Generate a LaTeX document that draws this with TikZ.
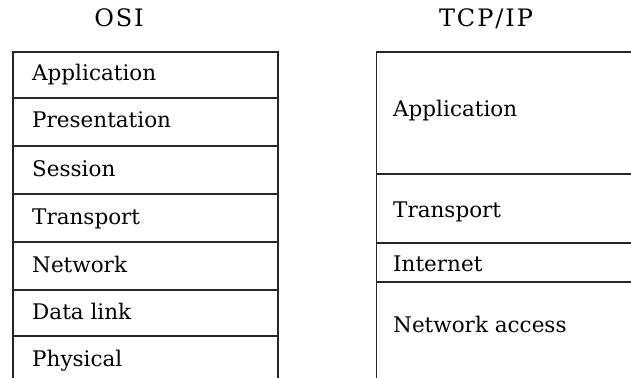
\documentclass[tikz,border=0pt]{standalone}
\usepackage{fontspec}
\setmainfont{DejaVu Serif}
\newfontfamily\titlefont[LetterSpace=8]{DejaVu Serif}
\begin{document}
\begin{tikzpicture}[x=1pt,y=-1pt,
  layer/.style={draw=black!85, line width=1.7pt, rectangle, inner sep=0pt, anchor=north west},
  lbl/.style={anchor=base west, inner sep=0pt, font=\fontsize{21.5}{26}\selectfont},
  heading/.style={anchor=base, inner sep=0pt, font=\titlefont\fontsize{24}{28}\selectfont}]
  \useasboundingbox (0,0) rectangle (631,377);
  \clip (0,0) rectangle (631,377);

  % column headings
  \node[heading] (osi) at (119,27) {OSI};
  \node[heading] (tcp) at (486,27) {TCP/IP};

  % OSI stack: seven layers
  \node[layer, minimum width=265pt, minimum height=46pt] (o7) at (12,51) {};
  \node[layer, minimum width=265pt, minimum height=48pt] (o6) at (12,97) {};
  \node[layer, minimum width=265pt, minimum height=48pt] (o5) at (12,145) {};
  \node[layer, minimum width=265pt, minimum height=48pt] (o4) at (12,193) {};
  \node[layer, minimum width=265pt, minimum height=48pt] (o3) at (12,241) {};
  \node[layer, minimum width=265pt, minimum height=46pt] (o2) at (12,289) {};
  \node[layer, minimum width=265pt, minimum height=70pt] (o1) at (12,335) {};

  \node[lbl] (t7) at (32,81)  {Application};
  \node[lbl] (t6) at (32,128) {Presentation};
  \node[lbl] (t5) at (32,176) {Session};
  \node[lbl] (t4) at (32,224) {Transport};
  \node[lbl] (t3) at (32,272) {Network};
  \node[lbl] (t2) at (32,319) {Data link};
  \node[lbl] (t1) at (32,366) {Physical};

  % TCP/IP stack: four layers, open to the right and below
  \node[layer, minimum width=300pt, minimum height=122pt] (p4) at (375.5,51) {};
  \node[layer, minimum width=300pt, minimum height=69pt]  (p3) at (375.5,173) {};
  \node[layer, minimum width=300pt, minimum height=39pt]  (p2) at (375.5,242) {};
  \node[layer, minimum width=300pt, minimum height=120pt] (p1) at (375.5,281) {};

  \node[lbl] (s4) at (393,117) {Application};
  \node[lbl] (s3) at (393,217) {Transport};
  \node[lbl] (s2) at (393,271) {Internet};
  \node[lbl] (s1) at (393,332) {Network access};
\end{tikzpicture}
\end{document}
